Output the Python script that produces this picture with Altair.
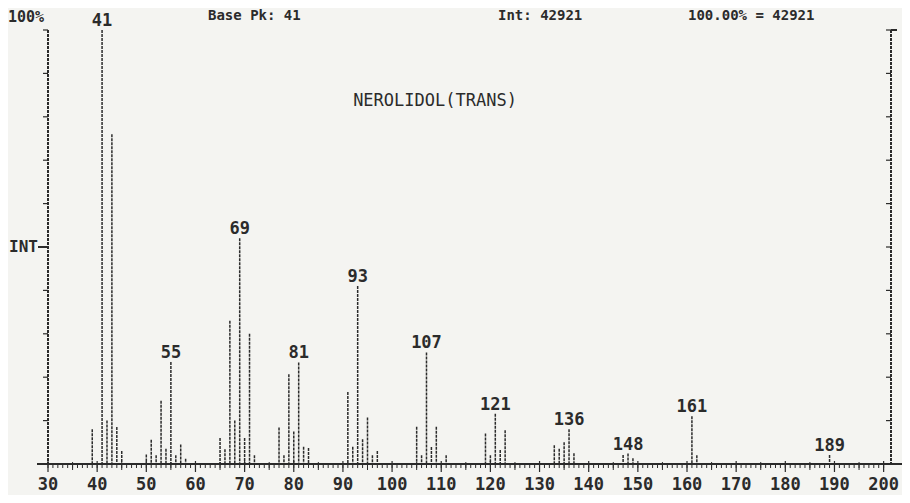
import altair as alt
import pandas as pd

# ---- data ----
mz = [39, 41, 42, 43, 44, 45, 50, 51, 52, 53, 54, 55, 56, 57, 58,
      65, 66, 67, 68, 69, 70, 71, 72, 77, 78, 79, 80, 81, 82, 83,
      91, 92, 93, 94, 95, 96, 97, 105, 106, 107, 108, 109, 111,
      119, 120, 121, 122, 123, 133, 134, 135, 136, 137, 147, 148, 149,
      161, 162, 189]
intensity = [8, 100, 10, 76, 8.5, 3, 2.2, 5.6, 2, 14.6, 3.5, 23.5, 2, 4.5, 1.2,
             6, 3.4, 33, 10, 52, 6, 30, 2, 8.4, 2, 20.7, 7.5, 23.4, 4, 3.7,
             16.6, 4, 41, 5.7, 10.7, 2, 3, 8.6, 2, 25.7, 3.9, 8.6, 2,
             7, 2, 11.6, 3.2, 7.8, 4.3, 3.5, 5, 8, 2.5, 2.1, 2.4, 1.3,
             11, 2, 2.1]
peak_labels = [41, 55, 69, 81, 93, 107, 121, 136, 148, 161, 189]
x_major = list(range(30, 201, 10))
x_mid = list(range(35, 200, 10))
x_minor = list(range(30, 201))
y_ticks = list(range(0, 101, 10))
title_text = "NEROLIDOL(TRANS)"
header_base = "Base Pk:  41"
header_int = "Int: 42921"
header_pct = "100.00% = 42921"
top_pct = "100%"
int_label = "INT"

W, H = 843, 434
INK = "#2b2b2b"
FONT = "DejaVu Sans Mono"

df = pd.DataFrame({"mz": mz, "intensity": intensity})
lab = df[df["mz"].isin(peak_labels)]

xs = alt.Scale(domain=[30, 201.5], nice=False, zero=False)
ys = alt.Scale(domain=[0, 100], nice=False)

peaks = alt.Chart(df).mark_rule(color=INK, strokeWidth=1.5, strokeDash=[3, 1]).encode(
    x=alt.X("mz:Q", scale=xs, axis=None),
    y=alt.Y("intensity:Q", scale=ys, axis=None),
    y2=alt.datum(0),
)

peak_text = alt.Chart(lab).mark_text(
    font=FONT, fontSize=17, fontWeight="bold", color=INK, baseline="alphabetic", dy=-4
).encode(
    x=alt.X("mz:Q", scale=xs),
    y=alt.Y("intensity:Q", scale=ys),
    text=alt.Text("mz:Q"),
)

# x axis
xdf_major = pd.DataFrame({"v": x_major})
xdf_mid = pd.DataFrame({"v": x_mid})
xdf_minor = pd.DataFrame({"v": x_minor})

x_line = alt.Chart(xdf_major).mark_rule(color=INK, strokeWidth=1.6).encode(
    x=alt.value(-11), x2=alt.value(W + 14), y=alt.value(H)
)
x_minor_t = alt.Chart(xdf_minor).mark_rule(color=INK, strokeWidth=1).encode(
    x=alt.X("v:Q", scale=xs), y=alt.value(H - 1), y2=alt.value(H + 4)
)
x_mid_t = alt.Chart(xdf_mid).mark_rule(color=INK, strokeWidth=1).encode(
    x=alt.X("v:Q", scale=xs), y=alt.value(H - 2), y2=alt.value(H + 6)
)
x_major_t = alt.Chart(xdf_major).mark_rule(color=INK, strokeWidth=1.2).encode(
    x=alt.X("v:Q", scale=xs), y=alt.value(H - 3), y2=alt.value(H + 8)
)
x_labels = alt.Chart(xdf_major).mark_text(
    font=FONT, fontSize=17, fontWeight="bold", color=INK, baseline="middle"
).encode(
    x=alt.X("v:Q", scale=xs), y=alt.value(H + 21), text=alt.Text("v:Q")
)

# y axes (left and right frames)
ydf = pd.DataFrame({"v": y_ticks})
left_line = alt.Chart(ydf).mark_rule(color=INK, strokeWidth=1.3, strokeDash=[3, 1]).encode(
    x=alt.value(0), y=alt.value(0), y2=alt.value(H)
)
left_ticks = alt.Chart(ydf).mark_rule(color=INK, strokeWidth=1.2).encode(
    x=alt.value(-5), x2=alt.value(0), y=alt.Y("v:Q", scale=ys)
)
right_line = alt.Chart(ydf).mark_rule(color=INK, strokeWidth=1.3, strokeDash=[3, 1]).encode(
    x=alt.value(W), y=alt.value(0), y2=alt.value(H)
)
right_ticks = alt.Chart(ydf).mark_rule(color=INK, strokeWidth=1.2).encode(
    x=alt.value(W - 5), x2=alt.value(W), y=alt.Y("v:Q", scale=ys)
)
right_top = alt.Chart(ydf).mark_rule(color=INK, strokeWidth=1.2).encode(
    x=alt.value(W), x2=alt.value(W + 6), y=alt.value(0)
)
int_tick = alt.Chart(ydf).mark_rule(color=INK, strokeWidth=1.4).encode(
    x=alt.value(-10), x2=alt.value(0), y=alt.datum(50, scale=ys)
)


def txt(s, x, y, size=17, weight="bold", align="left", baseline="middle"):
    return alt.Chart(pd.DataFrame({"t": [s]})).mark_text(
        font=FONT, fontSize=size, fontWeight=weight, color=INK, align=align, baseline=baseline
    ).encode(x=alt.value(x), y=alt.value(y), text="t:N")


int_text = alt.Chart(pd.DataFrame({"t": [int_label]})).mark_text(
    font=FONT, fontSize=16, fontWeight="bold", color=INK, align="right", baseline="middle", dx=-10
).encode(x=alt.value(0), y=alt.datum(50, scale=ys), text="t:N")

title = txt(title_text, 387, 71, size=17, weight="normal", align="center")
pct = txt(top_pct, -40, -13, size=15)
h1 = txt(header_base, 160, -14, size=14)
h2 = txt(header_int, 450, -14, size=14)
h3 = txt(header_pct, 640, -14, size=14)

chart = alt.layer(
    peaks, peak_text,
    x_line, x_minor_t, x_mid_t, x_major_t, x_labels,
    left_line, left_ticks, right_line, right_ticks, right_top, int_tick,
    int_text, title, pct, h1, h2, h3,
).properties(
    width=W, height=H,
    autosize=alt.AutoSizeParams(type="none"),
    padding={"left": 40, "top": 22, "right": 11, "bottom": 31},
    background="#f4f4f1",
).configure_view(stroke=None)

chart.save("out.html", embed_options={"renderer": "svg", "actions": False})
